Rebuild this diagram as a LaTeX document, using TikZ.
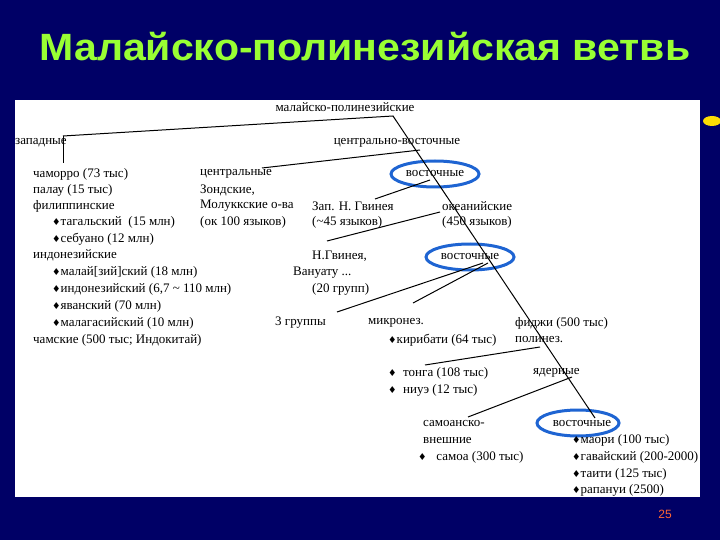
\documentclass[tikz,border=0pt]{standalone}
\usepackage{fontspec}
\usetikzlibrary{shapes.geometric}
\setmainfont{Liberation Serif}
\newfontfamily\dvfont{DejaVu Sans}
\newfontfamily\ttlfont{Liberation Sans}
\definecolor{navy}{RGB}{0,0,102}
\definecolor{ttlgreen}{RGB}{153,255,51}
\definecolor{ring}{RGB}{30,100,210}
\newcommand\dm{{\dvfont\fontsize{9.5}{9.5}\selectfont ♦}}
\begin{document}
\begin{tikzpicture}[x=1pt,y=-1pt,
  t/.style={anchor=west,inner sep=0pt,font=\fontsize{13}{13}\selectfont},
  tc/.style={anchor=center,inner sep=0pt,font=\fontsize{13}{13}\selectfont},
  ln/.style={draw=black,line width=1pt},
  ov/.style={draw=ring,line width=3pt,ellipse,minimum width=88pt,minimum height=26pt}]
\fill[navy] (0,0) rectangle (720,540);
\useasboundingbox (0,0) rectangle (720,540);
\fill[white] (15,100) rectangle (700,497);
\node[anchor=center,text=ttlgreen,font=\ttlfont\bfseries\fontsize{38}{38}\selectfont,xscale=1.08] (title) at (365,47) {Малайско-полинезийская ветвь};
\coordinate (hand) at (712,121);
\fill[yellow!80!orange] (hand) ellipse (9pt and 5pt);
% ellipses
\node[ov] (e1) at (435,174) {};
\node[ov] (e2) at (470,257) {};
\node[ov,minimum width=82pt] (e3) at (578,423) {};
% texts
\node[tc] (mp) at (345,107) {малайско-полинезийские};
\node[t] (zap) at (15,143) {западные};
\node[tc] (cv) at (397,143) {центрально-восточные};
\node[t] (a1) at (33,174) {чаморро (73 тыс)};
\node[t] (a2) at (33,190) {палау (15 тыс)};
\node[t] (a3) at (33,206) {филиппинские};
\node[t] (a4) at (52,222) {\dm тагальский\ \ (15 млн)};
\node[t] (a5) at (52,239) {\dm себуано (12 млн)};
\node[t] (a6) at (33,255) {индонезийские};
\node[t] (a7) at (52,272) {\dm малай[зий]ский (18 млн)};
\node[t] (a8) at (52,289) {\dm индонезийский (6,7 \textasciitilde\ 110 млн)};
\node[t] (a9) at (52,306) {\dm яванский (70 млн)};
\node[t] (a10) at (52,323) {\dm малагасийский (10 млн)};
\node[t] (a11) at (33,340) {чамские (500 тыс; Индокитай)};
\node[t] (c1) at (200,174) {центральные};
\node[t] (c2) at (200,190) {Зондские,};
\node[t] (c3) at (200,206) {Молуккские о-ва};
\node[t] (c4) at (200,222) {(ок 100 языков)};
\node[tc] (v1) at (435,174) {восточные};
\node[t] (g1) at (312,206) {Зап. Н. Гвинея};
\node[t] (g2) at (312,222) {(\textasciitilde45 языков)};
\node[t] (o1) at (442,206) {океанийские};
\node[t] (o2) at (442,222) {(450 языков)};
\node[t] (n1) at (312,256) {Н.Гвинея,};
\node[t] (n2) at (293,273) {Вануату ...};
\node[t] (n3) at (312,289) {(20 групп)};
\node[tc] (v2) at (470,257) {восточные};
\node[t] (g3) at (275,323) {3 группы};
\node[t] (m1) at (368,323) {микронез.};
\node[t] (m2) at (388,340) {\dm кирибати (64 тыс)};
\node[t] (f1) at (515,323) {фиджи (500 тыс)};
\node[t] (f2) at (515,340) {полинез.};
\node[t] (p1) at (388,373) {\dm\ \ тонга (108 тыс)};
\node[t] (p2) at (388,390) {\dm\ \ ниуэ (12 тыс)};
\node[t] (ya) at (533,373) {ядерные};
\node[t] (s1) at (423,423) {самоанско-};
\node[t] (s2) at (423,440) {внешние};
\node[t] (s3) at (418,457) {\dm\ \ \ самоа (300 тыс)};
\node[tc] (v3) at (582,423) {восточные};
\node[t] (r1) at (572,440) {\dm маори (100 тыс)};
\node[t] (r2) at (572,457) {\dm гавайский (200\mbox{-}2000)};
\node[t] (r3) at (572,474) {\dm таити (125 тыс)};
\node[t] (r4) at (572,490) {\dm рапануи (2500)};
\node[anchor=center,text=red!50!orange!80!white,font=\ttlfont\fontsize{12}{12}\selectfont] (pg) at (665,514) {25};
% connector ends
\coordinate (top) at (393,116);
\coordinate (bot) at (595,418);
\coordinate (zw) at (63,136);
\coordinate (zs) at (63,163);
\coordinate (cvR) at (420,150);
\coordinate (cL) at (262,168);
\coordinate (v1a) at (430,180);
\coordinate (g1a) at (375,199);
\coordinate (oa) at (440,212);
\coordinate (na) at (327,241);
\coordinate (v2a) at (483,263);
\coordinate (v2b) at (488,263);
\coordinate (g3a) at (337,312);
\coordinate (m1a) at (413,303);
\coordinate (pa) at (540,347);
\coordinate (pb) at (425,365);
\coordinate (yaa) at (572,377);
\coordinate (sa) at (468,417);
\draw[ln] (zw) -- (top) -- (bot);
\draw[ln] (zw) -- (zs);
\draw[ln] (cvR) -- (cL);
\draw[ln] (v1a) -- (g1a);
\draw[ln] (oa) -- (na);
\draw[ln] (v2a) -- (g3a);
\draw[ln] (v2b) -- (m1a);
\draw[ln] (pa) -- (pb);
\draw[ln] (yaa) -- (sa);
\end{tikzpicture}
\end{document}
